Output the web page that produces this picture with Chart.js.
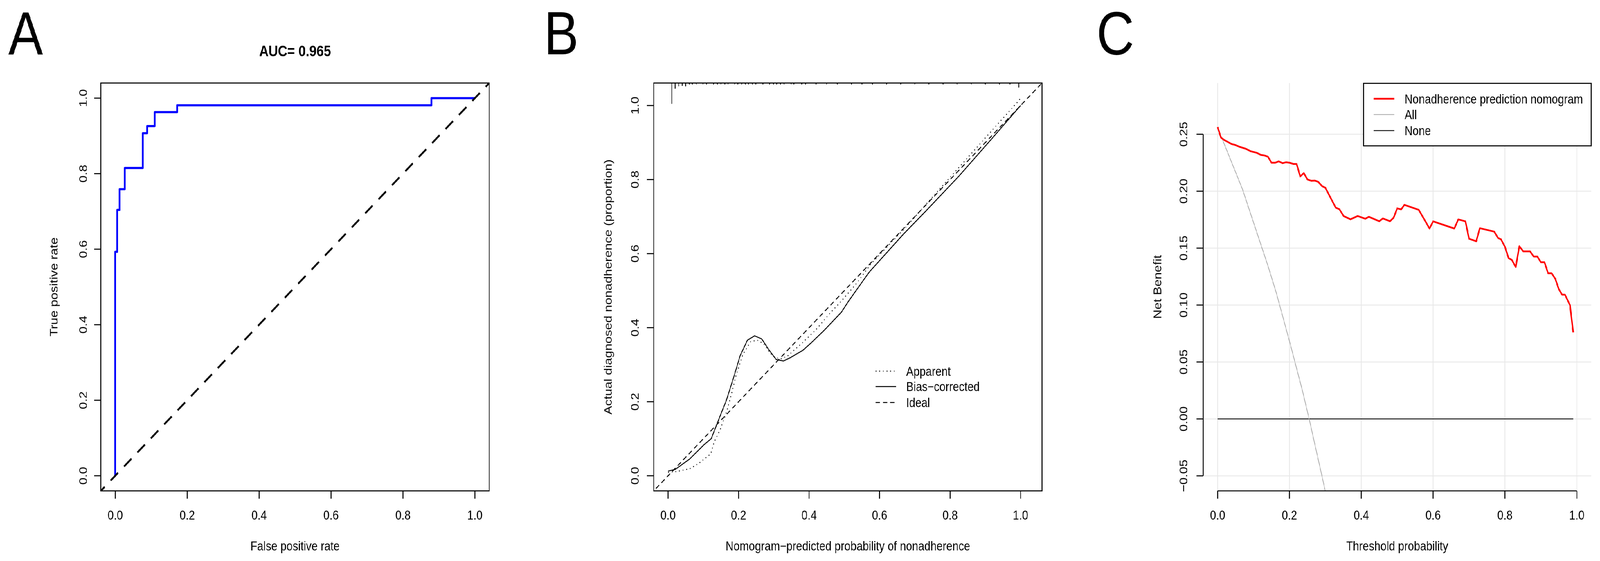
<!DOCTYPE html>
<html>
<head>
<meta charset="utf-8">
<script src="https://cdn.jsdelivr.net/npm/chart.js@4.4.1/dist/chart.umd.min.js"></script>
<style>
  html, body { margin: 0; padding: 0; background: #fff; overflow: hidden; }
  #wrap { position: absolute; left: 0; top: 0; width: 4807px; height: 1436px; transform-origin: 0 0; background: #fff; }
  canvas { position: absolute; top: 0; }
</style>
</head>
<body>
<div id="wrap">
<canvas id="rocChart" width="1600" height="1436" style="left:0"></canvas>
<canvas id="calChart" width="1600" height="1436" style="left:1600px"></canvas>
<canvas id="dcaChart" width="1607" height="1436" style="left:3200px"></canvas>
</div>
<script>
// shared ticks
const tickVals = [0, 0.2, 0.4, 0.6, 0.8, 1.0];
const tickLabels = ['0.0', '0.2', '0.4', '0.6', '0.8', '1.0'];

// A: ROC curve
const rocFpr = [0, 0, 0.0057, 0.0123, 0.0265, 0.0766, 0.0888, 0.1096, 0.172, 0.879, 1.0];
const rocTpr = [0, 0.593, 0.704, 0.759, 0.815, 0.907, 0.926, 0.963, 0.981, 1.0, 1.0];
const chanceX = [-0.05, 1.05];
const chanceY = [-0.05, 1.05];
const aucText = 'AUC= 0.965';

// B: calibration curve
const appX = [0, 0.0236, 0.0613, 0.0864, 0.121, 0.130, 0.149, 0.165, 0.178, 0.193, 0.2124, 0.2344, 0.2532, 0.2705, 0.2878, 0.3035, 0.3192, 0.338, 0.382, 0.4197, 0.4574, 0.4983, 0.536, 0.577, 0.673, 0.7307, 0.80, 0.86, 0.93, 0.9915, 1.0];
const appY = [0.0092, 0.0113, 0.019, 0.033, 0.0593, 0.0893, 0.1278, 0.170, 0.214, 0.272, 0.328, 0.3625, 0.366, 0.357, 0.3333, 0.3193, 0.3158, 0.3228, 0.360, 0.3948, 0.437, 0.479, 0.5213, 0.574, 0.670, 0.732, 0.806, 0.870, 0.9445, 1.0095, 1.02];
const bcX = [0, 0.0204, 0.0613, 0.102, 0.1225, 0.146, 0.165, 0.184, 0.2045, 0.225, 0.2454, 0.2658, 0.2846, 0.3066, 0.327, 0.3475, 0.382, 0.407, 0.4449, 0.492, 0.5108, 0.5516, 0.5705, 0.668, 0.7307, 0.825, 0.919, 1.0];
const bcY = [0.0126, 0.0172, 0.0453, 0.084, 0.1004, 0.1577, 0.203, 0.2595, 0.3245, 0.366, 0.378, 0.3695, 0.342, 0.314, 0.310, 0.3193, 0.3386, 0.360, 0.3948, 0.4422, 0.470, 0.5248, 0.550, 0.653, 0.7144, 0.8093, 0.911, 1.0];
const idealX = [-0.05, 1.1];
const idealY = [-0.05, 1.1];
// spike histogram of predicted probabilities along the top
const rugX = [0.0104, 0.020, 0.030, 0.040, 0.050, 0.060, 0.069, 0.080, 0.099, 0.109, 0.129, 0.140, 0.150, 0.161, 0.170, 0.189, 0.198, 0.209, 0.219, 0.228, 0.239, 0.249, 0.269, 0.288, 0.299, 0.308, 0.319, 0.329, 0.349, 0.357, 0.379, 0.390, 0.420, 0.450, 0.480, 0.520, 0.550, 0.580, 0.620, 0.660, 0.700, 0.740, 0.780, 0.820, 0.860, 0.900, 0.940, 0.970, 0.995];
const rugH = [0.0555, 0.0142, 0.008, 0.0065, 0.008, 0.003, 0.003, 0.003, 0.003, 0.003, 0.003, 0.003, 0.003, 0.003, 0.003, 0.003, 0.003, 0.003, 0.003, 0.003, 0.003, 0.003, 0.003, 0.003, 0.003, 0.003, 0.003, 0.003, 0.003, 0.003, 0.003, 0.003, 0.003, 0.003, 0.003, 0.003, 0.003, 0.003, 0.003, 0.003, 0.003, 0.003, 0.003, 0.003, 0.003, 0.003, 0.003, 0.003, 0.011];

// C: decision curve
const dcaX = [0, 0.0093, 0.0192, 0.039, 0.049, 0.062, 0.079, 0.092, 0.109, 0.120, 0.130, 0.140, 0.150, 0.160, 0.170, 0.181, 0.190, 0.200, 0.211, 0.220, 0.230, 0.240, 0.250, 0.261, 0.271, 0.280, 0.291, 0.300, 0.314, 0.329, 0.339, 0.351, 0.370, 0.390, 0.411, 0.421, 0.450, 0.460, 0.480, 0.490, 0.500, 0.511, 0.520, 0.560, 0.590, 0.600, 0.659, 0.670, 0.690, 0.700, 0.720, 0.730, 0.770, 0.781, 0.789, 0.800, 0.810, 0.819, 0.830, 0.840, 0.851, 0.870, 0.880, 0.890, 0.900, 0.910, 0.920, 0.930, 0.940, 0.950, 0.959, 0.967, 0.981, 0.990];
const dcaModel = [0.2563, 0.2471, 0.2448, 0.2414, 0.2406, 0.2389, 0.2372, 0.2351, 0.2337, 0.2319, 0.2314, 0.2303, 0.2250, 0.2250, 0.2262, 0.2246, 0.2254, 0.2250, 0.2239, 0.2239, 0.2130, 0.2159, 0.2103, 0.2091, 0.2093, 0.2082, 0.2044, 0.2030, 0.1944, 0.1855, 0.1841, 0.1781, 0.1753, 0.1782, 0.1758, 0.1775, 0.1736, 0.1761, 0.1736, 0.1767, 0.1849, 0.1840, 0.1880, 0.1836, 0.1672, 0.1735, 0.1672, 0.1752, 0.1735, 0.1582, 0.1560, 0.1675, 0.1645, 0.1588, 0.1577, 0.1511, 0.1412, 0.1397, 0.1334, 0.1517, 0.1471, 0.1471, 0.1426, 0.1426, 0.1376, 0.1376, 0.1279, 0.1279, 0.1231, 0.1139, 0.1091, 0.1091, 0.100, 0.076];
const allX = [0, 0.0126, 0.069, 0.1403, 0.164, 0.202, 0.2363, 0.2548, 0.2996];
const allY = [0.256, 0.246, 0.2019, 0.1343, 0.110, 0.066, 0.0246, 0, -0.063];
const noneX = [0, 0.99];
const noneY = [0, 0];
const dcaYTicks = [-0.05, 0, 0.05, 0.10, 0.15, 0.20, 0.25];
const dcaYLabels = ['\u22120.05', '0.00', '0.05', '0.10', '0.15', '0.20', '0.25'];

const FONT = '"Liberation Sans", Arial, Helvetica, sans-serif';

// stretch the 4807x1436 layout onto the window actually given
let fitX = window.innerWidth / 4807;
let fitY = window.innerHeight / 1436;
if (!(fitX > 0)) fitX = 1;
if (!(fitY > 0)) fitY = fitX;
document.getElementById('wrap').style.transform = 'scale(' + fitX + ',' + fitY + ')';
const pixelRatio = Math.max(fitX, fitY) * (window.devicePixelRatio || 1);

function pts(xs, ys) {
  return xs.map((x, i) => ({ x: x, y: ys[i] }));
}

function rugPts(xs, hs, top) {
  const out = [];
  xs.forEach((x, i) => {
    out.push({ x: x, y: top });
    out.push({ x: x, y: top - hs[i] });
    out.push({ x: x, y: null });
  });
  return out;
}

function seg(ctx, x1, y1, x2, y2) {
  ctx.beginPath();
  ctx.moveTo(x1, y1);
  ctx.lineTo(x2, y2);
  ctx.stroke();
}

function txt(ctx, s, x, y, size, opt) {
  opt = opt || {};
  ctx.save();
  ctx.translate(x, y);
  if (opt.rot) ctx.rotate(opt.rot);
  ctx.font = (opt.bold ? 'bold ' : '') + size + 'px ' + FONT;
  ctx.textAlign = opt.align || 'center';
  ctx.textBaseline = 'alphabetic';
  ctx.fillStyle = '#000';
  ctx.fillText(s, 0, 0);
  ctx.restore();
}

function drawLegend(chart, lg) {
  const ctx = chart.ctx;
  ctx.save();
  if (lg.box) {
    ctx.fillStyle = '#fff';
    ctx.fillRect(lg.box[0], lg.box[1], lg.box[2], lg.box[3]);
    ctx.strokeStyle = '#000';
    ctx.lineWidth = 2.7;
    ctx.strokeRect(lg.box[0], lg.box[1], lg.box[2], lg.box[3]);
  }
  lg.items.forEach((idx, r) => {
    const ds = chart.data.datasets[idx];
    const y = lg.rows[r];
    ctx.save();
    ctx.strokeStyle = ds.borderColor;
    ctx.lineWidth = ds.borderWidth;
    ctx.lineCap = 'butt';
    ctx.setLineDash(ds.borderDash || []);
    seg(ctx, lg.x1, y, lg.x2, y);
    ctx.restore();
    txt(ctx, ds.label, lg.textX, y + 12, 33, { align: 'left' });
  });
  ctx.restore();
}

// R style axes, box, titles and legend drawn on top of the chart
const rStyle = {
  id: 'rStyle',
  beforeDatasetsDraw(chart, args, o) {
    if (!o.grid) return;
    const { ctx, chartArea: a, scales } = chart;
    ctx.save();
    ctx.strokeStyle = '#e8e8e8';
    ctx.lineWidth = 2.2;
    o.xTicks.forEach(v => {
      const p = scales.x.getPixelForValue(v);
      seg(ctx, p, a.top, p, a.bottom);
    });
    o.yTicks.forEach(v => {
      const p = scales.y.getPixelForValue(v);
      seg(ctx, a.left, p, a.right, p);
    });
    ctx.restore();
  },
  afterDraw(chart, args, o) {
    const { ctx, chartArea: a, scales } = chart;
    const sx = scales.x, sy = scales.y;
    ctx.save();
    ctx.strokeStyle = '#000';
    ctx.lineWidth = 2.7;
    ctx.setLineDash([]);
    if (o.box) {
      ctx.strokeRect(a.left, a.top, a.right - a.left, a.bottom - a.top);
    } else {
      const xt = o.xTicks, yt = o.yTicks;
      seg(ctx, sx.getPixelForValue(xt[0]), a.bottom, sx.getPixelForValue(xt[xt.length - 1]), a.bottom);
      seg(ctx, a.left, sy.getPixelForValue(yt[0]), a.left, sy.getPixelForValue(yt[yt.length - 1]));
    }
    o.xTicks.forEach((v, i) => {
      const p = sx.getPixelForValue(v);
      seg(ctx, p, a.bottom, p, a.bottom + 20);
      txt(ctx, o.xLabels[i], p, a.bottom + 73.5, 33);
    });
    o.yTicks.forEach((v, i) => {
      const p = sy.getPixelForValue(v);
      seg(ctx, a.left - 20, p, a.left, p);
      txt(ctx, o.yLabels[i], a.left - o.yLabelGap, p, 33, { rot: -Math.PI / 2 });
    });
    const cx = (a.left + a.right) / 2, cy = (a.top + a.bottom) / 2;
    txt(ctx, o.xTitle, cx, 1409, 33);
    txt(ctx, o.yTitle, o.yTitleX, cy, 33, { rot: -Math.PI / 2 });
    txt(ctx, o.letter, o.letterX, 139, 156, { align: 'left' });
    if (o.title) txt(ctx, o.title, cx, 144, 39, { bold: true });
    if (o.legend) drawLegend(chart, o.legend);
    ctx.restore();
  }
};

function lineSet(label, data, color, width, extra) {
  return Object.assign({
    label: label,
    data: data,
    showLine: true,
    borderColor: color,
    backgroundColor: color,
    borderWidth: width,
    pointRadius: 0,
    fill: false,
    tension: 0,
    clip: 0,
    borderJoinStyle: 'round',
    borderCapStyle: 'butt'
  }, extra || {});
}

function baseOptions(padding, xr, yr, rOpts) {
  return {
    responsive: false,
    devicePixelRatio: pixelRatio,
    animation: false,
    events: [],
    layout: { padding: padding },
    scales: {
      x: { type: 'linear', display: false, min: xr[0], max: xr[1] },
      y: { type: 'linear', display: false, min: yr[0], max: yr[1] }
    },
    plugins: {
      legend: { display: false },
      tooltip: { enabled: false },
      rStyle: rOpts
    }
  };
}

// A
new Chart(document.getElementById('rocChart'), {
  type: 'scatter',
  data: {
    datasets: [
      lineSet('chance', pts(chanceX, chanceY), '#000000', 5, { borderDash: [30, 24] }),
      lineSet('ROC', pts(rocFpr, rocTpr), '#0000ff', 5.5, { stepped: 'before' })
    ]
  },
  options: baseOptions({ left: 303, right: 130, top: 212.5, bottom: 179.5 }, [-0.04, 1.04], [-0.04, 1.04], {
    box: true,
    xTicks: tickVals, xLabels: tickLabels,
    yTicks: tickVals, yLabels: tickLabels,
    yLabelGap: 42,
    xTitle: 'False positive rate',
    yTitle: 'True positive rate',
    yTitleX: 173,
    letter: 'A', letterX: 25,
    title: aucText
  }),
  plugins: [rStyle]
});

// B
const calTop = 1.0608;
new Chart(document.getElementById('calChart'), {
  type: 'scatter',
  data: {
    datasets: [
      lineSet('Apparent', pts(appX, appY), '#000000', 2.5, { borderDash: [2.5, 8.5] }),
      lineSet('Bias\u2212corrected', pts(bcX, bcY), '#000000', 2.5),
      lineSet('Ideal', pts(idealX, idealY), '#000000', 2.5, { borderDash: [13, 9] }),
      lineSet('rug', rugPts(rugX, rugH, calTop), '#000000', 2.5)
    ]
  },
  options: baseOptions({ left: 364, right: 69.4, top: 212.5, bottom: 179.5 }, [-0.0408, calTop], [-0.0408, calTop], {
    box: true,
    xTicks: tickVals, xLabels: tickLabels,
    yTicks: tickVals, yLabels: tickLabels,
    yLabelGap: 45,
    xTitle: 'Nomogram\u2212predicted probability of nonadherence',
    yTitle: 'Actual diagnosed nonadherence (proportion)',
    yTitleX: 238,
    letter: 'B', letterX: 34.6,
    legend: { items: [0, 1, 2], x1: 1030.6, x2: 1092, textX: 1122.4, rows: [950, 989.4, 1030.3] }
  }),
  plugins: [rStyle]
});

// C
new Chart(document.getElementById('dcaChart'), {
  type: 'scatter',
  data: {
    datasets: [
      lineSet('Nonadherence prediction nomogram', pts(dcaX, dcaModel), '#ff0000', 4.5),
      lineSet('All', pts(allX, allY), '#a8a8a8', 2),
      lineSet('None', pts(noneX, noneY), '#222222', 2.5)
    ]
  },
  options: baseOptions({ left: 415, right: 26.5, top: 212.5, bottom: 179.5 }, [-0.04, 1.04], [-0.0632, 0.295], {
    box: false,
    grid: true,
    xTicks: tickVals, xLabels: tickLabels,
    yTicks: dcaYTicks, yLabels: dcaYLabels,
    yLabelGap: 48,
    xTitle: 'Threshold probability',
    yTitle: 'Net Benefit',
    yTitleX: 289,
    letter: 'C', letterX: 94.7,
    legend: { box: [896.7, 213.3, 683.8, 160], items: [0, 1, 2], x1: 926.7, x2: 989.3, textX: 1020, rows: [252.7, 293.3, 334.3] }
  }),
  plugins: [rStyle]
});
</script>
</body>
</html>
